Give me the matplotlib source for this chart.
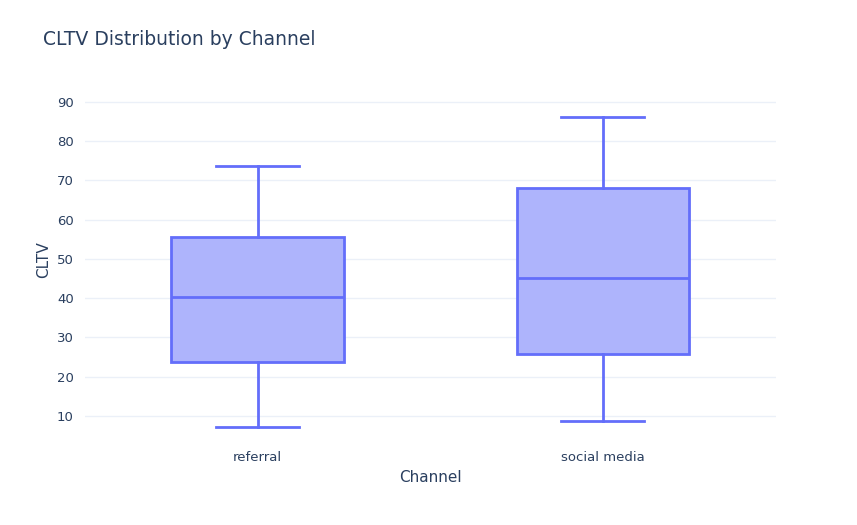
import matplotlib.pyplot as plt

channels = ["referral", "social media"]
whislo = [7.2, 8.8]
q1 = [23.8, 25.9]
med = [40.4, 45.2]
q3 = [55.7, 68.1]
whishi = [73.7, 86.2]

line_c = "#636efa"
fill_c = "#aeb4fc"
text_c = "#2a3f5f"

stats = [dict(label=c, whislo=lo, q1=a, med=m, q3=b, whishi=hi)
         for c, lo, a, m, b, hi in zip(channels, whislo, q1, med, q3, whishi)]

fig = plt.figure(figsize=(8.57, 5.25), dpi=100)
ax = fig.add_axes([0.099, 0.162, 0.806, 0.686])

ax.bxp(stats, positions=range(len(channels)), widths=0.5, showfliers=False,
       patch_artist=True,
       boxprops=dict(facecolor=fill_c, edgecolor=line_c, linewidth=2),
       medianprops=dict(color=line_c, linewidth=2),
       whiskerprops=dict(color=line_c, linewidth=2),
       capprops=dict(color=line_c, linewidth=2), capwidths=0.24)

ax.set_xlim(-0.5, 1.5)
ax.set_ylim(3.9, 95.6)
ax.set_yticks(range(10, 91, 10))
ax.grid(axis="y", color="#ebf0f8", linewidth=1)
ax.set_axisbelow(True)
for s in ax.spines.values():
    s.set_visible(False)
ax.tick_params(length=0, colors=text_c, labelsize=9.5, pad=8)
ax.set_xlabel("Channel", color=text_c, fontsize=11)
ax.set_ylabel("CLTV", color=text_c, fontsize=11)
fig.text(0.05, 0.915, "CLTV Distribution by Channel", color=text_c, fontsize=13.5)

fig.savefig("out.png")
